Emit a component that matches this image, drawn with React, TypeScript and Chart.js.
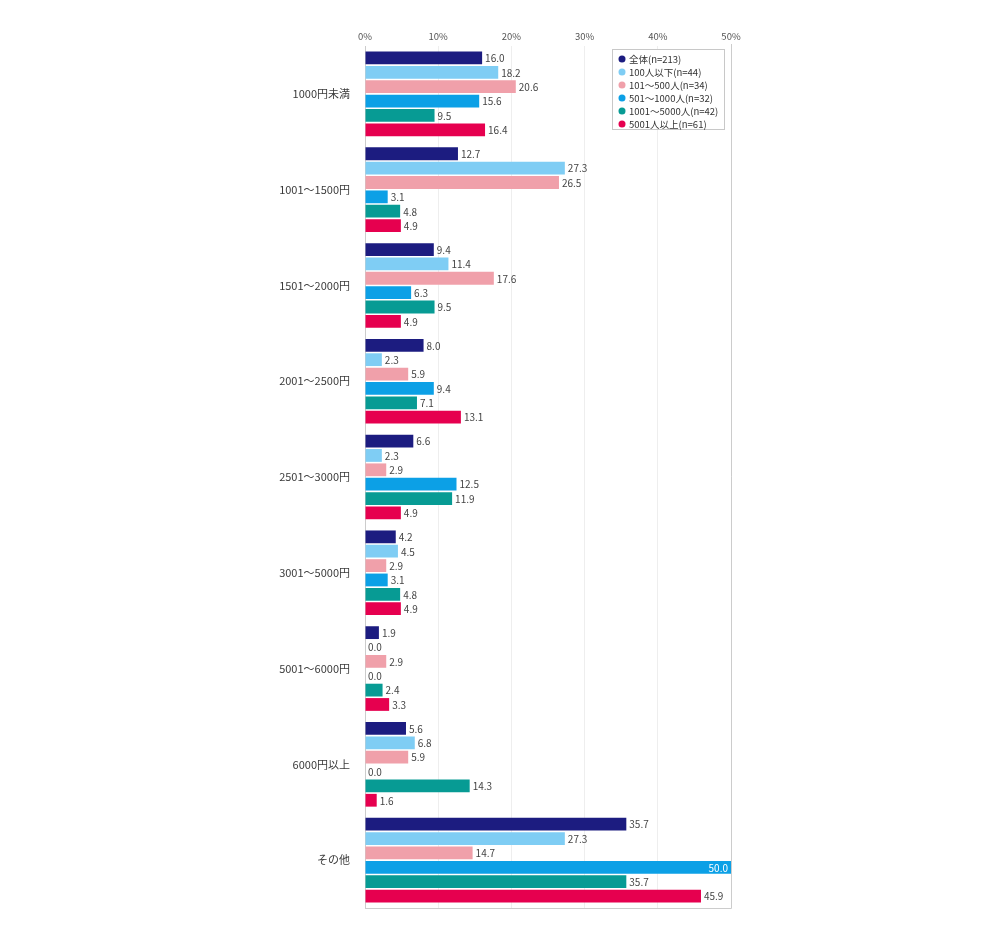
import React, { useEffect, useRef } from 'react';
import { Chart, registerables, Plugin } from 'chart.js';

Chart.register(...registerables);

const categories = [
  '1000円未満',
  '1001～1500円',
  '1501～2000円',
  '2001～2500円',
  '2501～3000円',
  '3001～5000円',
  '5001～6000円',
  '6000円以上',
  'その他',
];

const seriesNames = [
  '全体(n=213)',
  '100人以下(n=44)',
  '101～500人(n=34)',
  '501～1000人(n=32)',
  '1001～5000人(n=42)',
  '5001人以上(n=61)',
];

const seriesColors = ['#1c1c80', '#7fcdf4', '#f0a0aa', '#0ca0e6', '#079b94', '#e6004f'];

const allValues = [16.0, 12.7, 9.4, 8.0, 6.6, 4.2, 1.9, 5.6, 35.7];
const under100 = [18.2, 27.3, 11.4, 2.3, 2.3, 4.5, 0.0, 6.8, 27.3];
const from101to500 = [20.6, 26.5, 17.6, 5.9, 2.9, 2.9, 2.9, 5.9, 14.7];
const from501to1000 = [15.6, 3.1, 6.3, 9.4, 12.5, 3.1, 0.0, 0.0, 50.0];
const from1001to5000 = [9.5, 4.8, 9.5, 7.1, 11.9, 4.8, 2.4, 14.3, 35.7];
const over5001 = [16.4, 4.9, 4.9, 13.1, 4.9, 4.9, 3.3, 1.6, 45.9];

const seriesValues = [allValues, under100, from101to500, from501to1000, from1001to5000, over5001];

const xTicks = [0, 10, 20, 30, 40, 50];

const FONT = '"Noto Sans CJK JP", "Noto Sans", sans-serif';

// value labels next to each bar, white inside the bar when it reaches the axis end
const valueLabels: Plugin<'bar'> = {
  id: 'valueLabels',
  afterDatasetsDraw(chart) {
    const ctx = chart.ctx;
    const xMax = chart.scales.x.max;
    ctx.save();
    ctx.font = `10px ${FONT}`;
    ctx.textBaseline = 'middle';
    chart.data.datasets.forEach((ds, di) => {
      chart.getDatasetMeta(di).data.forEach((bar: any, i) => {
        const v = ds.data[i] as number;
        const txt = v.toFixed(1);
        if (v >= xMax) {
          ctx.fillStyle = '#ffffff';
          ctx.textAlign = 'right';
          ctx.fillText(txt, bar.x - 3, bar.y + 0.5);
        } else {
          ctx.fillStyle = '#444444';
          ctx.textAlign = 'left';
          ctx.fillText(txt, bar.x + 3, bar.y + 0.5);
        }
      });
    });
    ctx.restore();
  },
};

// right and bottom frame plus the legend box inside the plot
const frameAndLegend: Plugin<'bar'> = {
  id: 'frameAndLegend',
  afterDraw(chart) {
    const { ctx, chartArea } = chart;
    ctx.save();
    ctx.strokeStyle = '#cccccc';
    ctx.lineWidth = 1;
    ctx.beginPath();
    ctx.moveTo(chartArea.right + 0.5, chartArea.top - 2);
    ctx.lineTo(chartArea.right + 0.5, chartArea.bottom + 0.5);
    ctx.lineTo(chartArea.left, chartArea.bottom + 0.5);
    ctx.stroke();

    const bx = 612;
    const by = 49;
    const bw = 112;
    const bh = 80;
    ctx.fillStyle = '#ffffff';
    ctx.fillRect(bx, by, bw, bh);
    ctx.strokeStyle = '#c8c8c8';
    ctx.strokeRect(bx + 0.5, by + 0.5, bw, bh);

    ctx.font = `9.5px ${FONT}`;
    ctx.textBaseline = 'middle';
    ctx.textAlign = 'left';
    seriesNames.forEach((name, i) => {
      const y = 59 + i * 13;
      ctx.fillStyle = seriesColors[i];
      ctx.beginPath();
      ctx.arc(622, y, 3.5, 0, Math.PI * 2);
      ctx.fill();
      ctx.fillStyle = '#333333';
      ctx.fillText(name, 629, y);
    });
    ctx.restore();
  },
};

const App: React.FC = () => {
  const canvasRef = useRef<HTMLCanvasElement>(null);

  useEffect(() => {
    if (!canvasRef.current) return;
    const chart = new Chart(canvasRef.current, {
      type: 'bar',
      data: {
        labels: categories,
        datasets: seriesNames.map((name, i) => ({
          label: name,
          data: seriesValues[i],
          backgroundColor: seriesColors[i],
          borderWidth: 0,
          categoryPercentage: 0.9,
          barPercentage: 0.89,
        })),
      },
      options: {
        indexAxis: 'y',
        animation: false,
        responsive: true,
        maintainAspectRatio: false,
        layout: { padding: { left: 0, right: 269, top: 0, bottom: 21 } },
        plugins: {
          legend: { display: false },
          tooltip: { enabled: false },
        },
        scales: {
          x: {
            position: 'top',
            min: 0,
            max: 50,
            afterBuildTicks: (scale) => {
              scale.ticks = xTicks.map((v) => ({ value: v }));
            },
            afterFit: (scale) => {
              scale.height = 46;
            },
            ticks: {
              padding: 4,
              color: '#555555',
              font: { size: 9.5, family: FONT },
              callback: (v) => `${v}%`,
            },
            grid: {
              color: '#eeeeee',
              drawTicks: false,
            },
            border: { display: false },
          },
          y: {
            afterFit: (scale) => {
              scale.width = 365;
            },
            ticks: {
              padding: 7,
              color: '#3a3a3a',
              font: { size: 11, family: FONT },
            },
            grid: { display: false },
            border: { display: true, color: '#cccccc' },
          },
        },
      },
      plugins: [valueLabels, frameAndLegend],
    });
    return () => chart.destroy();
  }, []);

  return (
    <div style={{ position: 'absolute', left: 0, top: 0, width: 1000, height: 929, background: '#fff' }}>
      <canvas ref={canvasRef}></canvas>
    </div>
  );
};

export default App;
